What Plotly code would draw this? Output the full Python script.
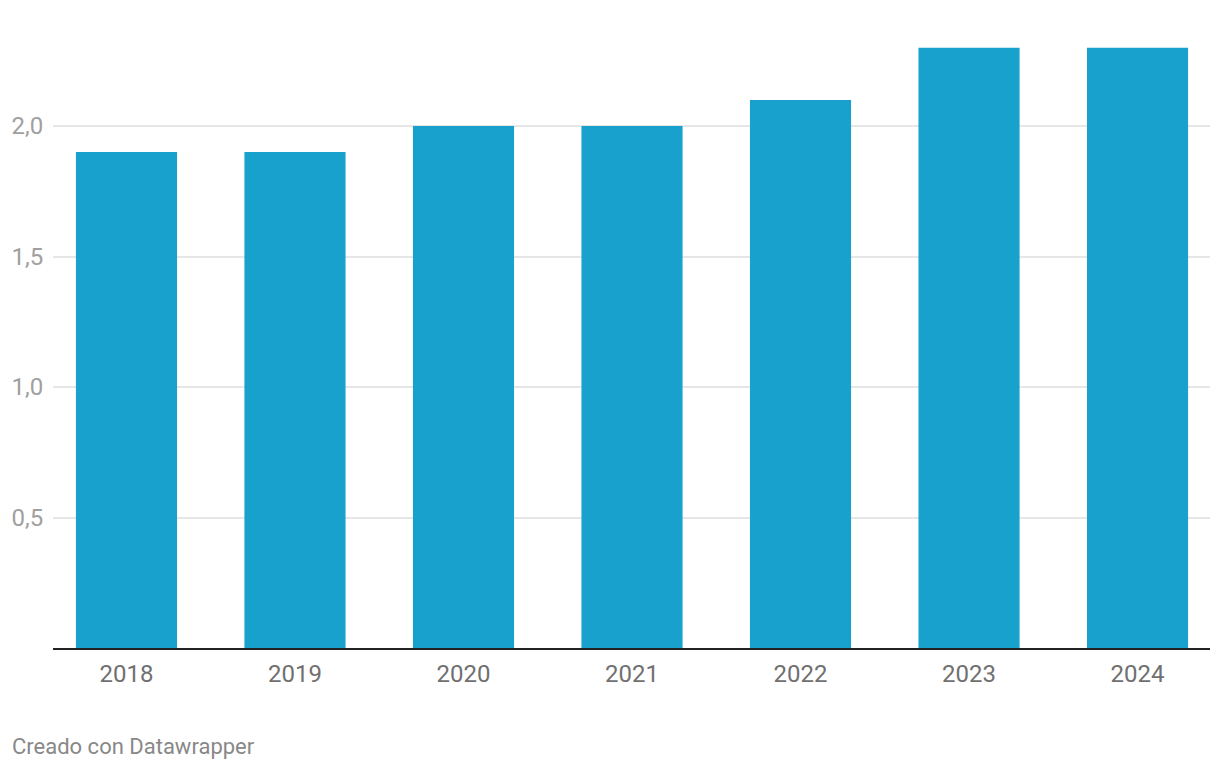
import plotly.graph_objects as go

years = ["2018", "2019", "2020", "2021", "2022", "2023", "2024"]
values = [1.9, 1.9, 2.0, 2.0, 2.1, 2.3, 2.3]
y_tickvals = [0.5, 1.0, 1.5, 2.0]
y_ticktext = ["0,5", "1,0", "1,5", "2,0"]
footer = "Creado con Datawrapper"

W, H = 1220, 770
off = 8  # page body offset
ml, mr, mt, mb = 53 - off, 18, 40 - off, 130
px_per_unit = 261.0
ytop = (H - mt - mb) / px_per_unit

fig = go.Figure(go.Bar(
    x=years, y=values, width=0.6,
    marker=dict(color="#18a1cd", line=dict(width=0)),
    hoverinfo="x+y",
))

fig.update_layout(
    width=W, height=H,
    margin=dict(l=ml, r=mr, t=mt, b=mb, autoexpand=False),
    paper_bgcolor="white", plot_bgcolor="white",
    font=dict(family="Roboto", size=24),
    showlegend=False,
    xaxis=dict(
        type="category", automargin=False,
        range=[-0.436, 6.43],
        showgrid=False, zeroline=False,
        showline=True, linecolor="#222222", linewidth=2,
        ticks="outside", ticklen=3, tickcolor="rgba(0,0,0,0)",
        tickfont=dict(family="Roboto", size=24, color="#707070"),
    ),
    yaxis=dict(
        automargin=False,
        range=[0, ytop],
        tickvals=y_tickvals, ticktext=y_ticktext,
        showgrid=True, gridcolor="#e6e6e6", gridwidth=2,
        zeroline=False, showline=False,
        ticks="outside", ticklen=4, tickcolor="rgba(0,0,0,0)",
        tickfont=dict(family="Roboto", size=24, color="#a0a0a0"),
    ),
    annotations=[dict(
        text=footer, xref="paper", yref="paper",
        x=-(ml - 2) / (W - ml - mr), y=-(746 - off - (H - mb)) / (H - mt - mb),
        xanchor="left", yanchor="middle", showarrow=False,
        font=dict(family="Roboto", size=22, color="#888888"),
    )],
)

fig.write_html("out.html")
